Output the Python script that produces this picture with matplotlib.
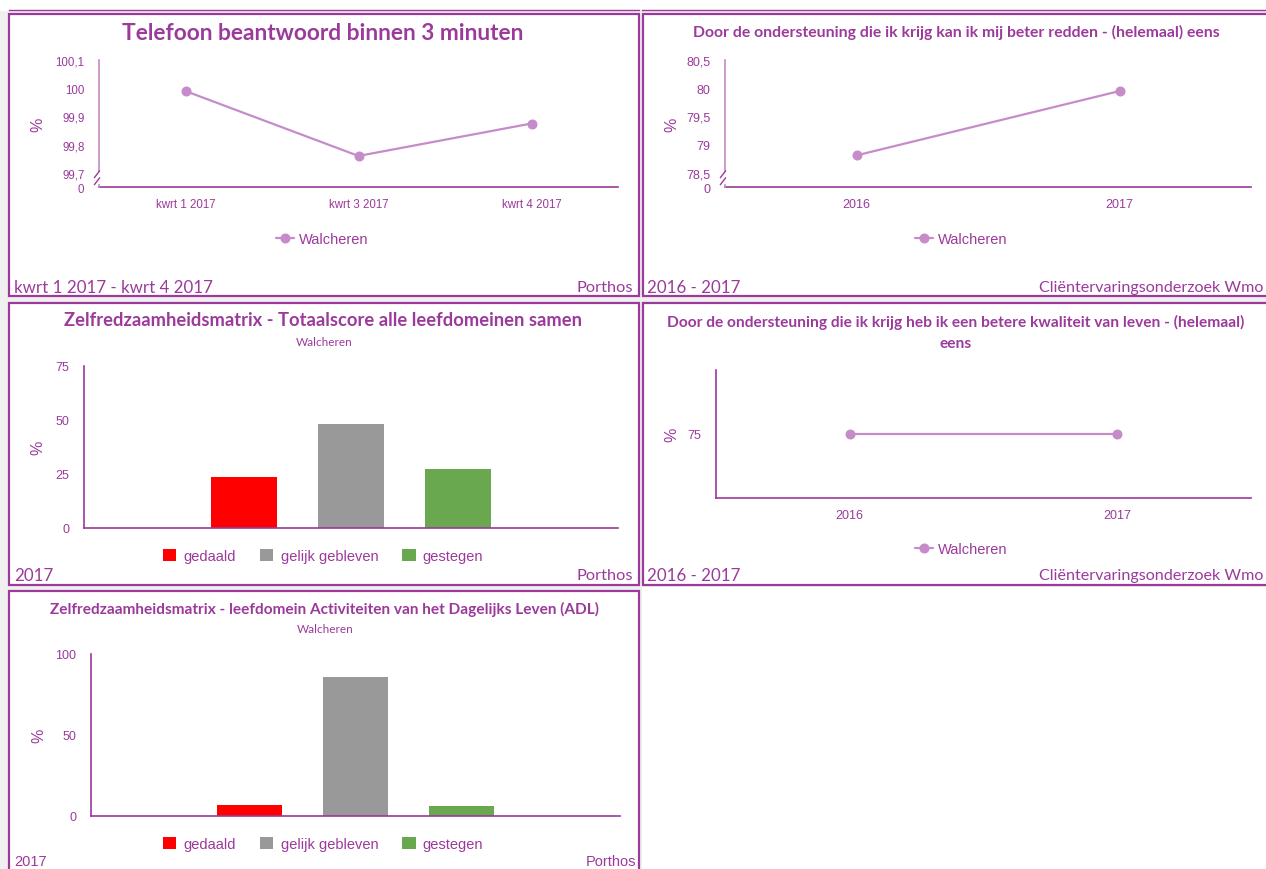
import matplotlib
matplotlib.use('Agg')
import matplotlib.pyplot as plt
from matplotlib.patches import Rectangle
from matplotlib.lines import Line2D

# ---------------- data ----------------
quarters = ['kwrt 1 2017', 'kwrt 3 2017', 'kwrt 4 2017']
telefoon = [99.99, 99.76, 99.875]
telefoon_ticks = [99.7, 99.8, 99.9, 100.0, 100.1]
telefoon_ticklabels = ['99,7', '99,8', '99,9', '100', '100,1']

years = ['2016', '2017']
redden = [78.81, 79.95]
redden_ticks = [78.5, 79.0, 79.5, 80.0, 80.5]
redden_ticklabels = ['78,5', '79', '79,5', '80', '80,5']

kwaliteit = [75, 75]
kwaliteit_ticks = [75]
kwaliteit_ticklabels = ['75']

zrm_cats = ['gedaald', 'gelijk gebleven', 'gestegen']
totaal = [23.6, 48.1, 27.3]
totaal_ticks = [0, 25, 50, 75]
adl = [7.0, 86.0, 6.4]
adl_ticks = [0, 50, 100]

series_name = 'Walcheren'

# ---------------- style ----------------
W, H = 1266, 870
PURPLE = '#9B3A9B'
LINEC = '#C68CC9'
YAX = '#C48AC6'
BARC = ['#FF0000', '#999999', '#6AA84F']
TITLE_F = ['Lato', 'DejaVu Sans']
NARROW_F = ['Liberation Sans Narrow', 'Liberation Sans', 'DejaVu Sans']

fig = plt.figure(figsize=(W / 100, H / 100), dpi=100, facecolor='white')


def fx(x):
    return x / W


def fy(y):
    return 1 - y / H


def ax_at(x0, y0, x1, y1):
    ax = fig.add_axes([fx(x0), fy(y1), (x1 - x0) / W, (y1 - y0) / H])
    ax.set_facecolor('none')
    return ax


def ftext(x, y, s, **kw):
    kw.setdefault('color', PURPLE)
    return fig.text(fx(x), fy(y), s, **kw)


def rect(x0, y0, x1, y1, fc, ec='none', lw=0, z=-5):
    r = Rectangle((fx(x0), fy(y1)), (x1 - x0) / W, (y1 - y0) / H,
                  transform=fig.transFigure, facecolor=fc,
                  edgecolor=ec, linewidth=lw, zorder=z)
    fig.add_artist(r)


# light grey page behind the panel grid
rect(0, 12, 642, 880, '#F0F0F0', z=-10)
rect(642, 12, 1270, 588, '#F0F0F0', z=-10)

# top rule lines
fig.add_artist(Line2D([fx(9), fx(639)], [fy(10.5), fy(10.5)], color=PURPLE, lw=1.0,
                      transform=fig.transFigure))
fig.add_artist(Line2D([fx(642), fx(1266)], [fy(10.5), fy(10.5)], color=PURPLE, lw=1.0,
                      transform=fig.transFigure))

# panel frames
rect(9, 15, 639, 297, 'white', PURPLE, 1.6)
rect(643, 15, 1275, 297, 'white', PURPLE, 1.6)
rect(9, 304, 639, 586, 'white', PURPLE, 1.6)
rect(643, 304, 1275, 586, 'white', PURPLE, 1.6)
rect(9, 592, 639, 880, 'white', PURPLE, 1.6)


def style_axes(ax, ycolor, tick_size):
    for sp in ['top', 'right']:
        ax.spines[sp].set_visible(False)
    ax.spines['bottom'].set_color(PURPLE)
    ax.spines['bottom'].set_linewidth(1.2)
    ax.spines['left'].set_color(ycolor)
    ax.spines['left'].set_linewidth(1.2)
    ax.tick_params(length=0, colors=PURPLE, labelsize=tick_size)
    ax.tick_params(axis='y', pad=10.5)
    ax.tick_params(axis='x', pad=8)
    for lab in ax.get_xticklabels() + ax.get_yticklabels():
        lab.set_family(NARROW_F)


def line_panel(box, cats, vals, ylim, ticks, ticklabels, broken, tick_size, leg_xy):
    x0, y0, x1, y1 = box
    ax = ax_at(*box)
    xs = list(range(len(cats)))
    ax.plot(xs, vals, color=LINEC, lw=1.6, marker='o', ms=6.2, label=series_name,
            solid_capstyle='round')
    ax.set_xlim(-0.5, len(cats) - 0.5)
    ax.set_ylim(*ylim)
    ax.set_xticks(xs)
    ax.set_xticklabels(cats)
    if broken:
        ax.set_yticks([ylim[0]] + ticks)
        ax.set_yticklabels(['0'] + ticklabels)
    else:
        ax.set_yticks(ticks)
        ax.set_yticklabels(ticklabels)
    style_axes(ax, YAX if broken else PURPLE, tick_size)
    if broken:
        # break the value axis just above the zero baseline
        h = y1 - y0
        frac_top = (y1 - 172) / h
        lo, hi = ylim
        ax.spines['left'].set_bounds(lo + frac_top * (hi - lo), hi)
        fig.add_artist(Line2D([fx(x0), fx(x0)], [fy(185.5), fy(y1)], color=YAX, lw=1.2,
                              transform=fig.transFigure))
        for (ya, yb) in [(178.5, 172.0), (185.5, 179.0)]:
            fig.add_artist(Line2D([fx(x0 - 4.5), fx(x0 + 0.5)], [fy(ya), fy(yb)],
                                  color=PURPLE, lw=1.0, transform=fig.transFigure))
    leg = ax.legend(loc='center', bbox_to_anchor=(fx(leg_xy[0]), fy(leg_xy[1])),
                    bbox_transform=fig.transFigure, frameon=False, numpoints=1,
                    handlelength=1.25, handletextpad=0.3, borderpad=0,
                    prop={'family': NARROW_F, 'size': 10.5})
    for t in leg.get_texts():
        t.set_color(PURPLE)
    return ax


def bar_panel(box, cats, vals, ymax, ticks, leg_xy):
    ax = ax_at(*box)
    pos = [i - (len(cats) - 1) / 2 for i in range(len(cats))]
    for p, v, c, lab in zip(pos, vals, BARC, cats):
        ax.bar(p, v, width=0.62, color=c, label=lab)
    ax.set_xlim(-2.5, 2.5)
    ax.set_ylim(0, ymax)
    ax.set_yticks(ticks)
    ax.set_yticklabels([str(t) for t in ticks])
    ax.set_xticks([])
    style_axes(ax, PURPLE, 9)
    leg = ax.legend(loc='center', bbox_to_anchor=(fx(leg_xy[0]), fy(leg_xy[1])),
                    bbox_transform=fig.transFigure, frameon=False, ncol=3,
                    handlelength=0.95, handleheight=0.95, handletextpad=0.5,
                    columnspacing=1.6, borderpad=0,
                    prop={'family': NARROW_F, 'size': 10.5})
    for t in leg.get_texts():
        t.set_color(PURPLE)
    return ax


def ylabel(ax, box, xpix):
    x0, y0, x1, y1 = box
    ax.set_ylabel('%', family=NARROW_F, fontsize=11.5, color=PURPLE)
    ax.yaxis.set_label_coords((xpix - x0) / (x1 - x0), 0.5)


# ---- panel 1 ----
b1 = (99, 61, 618, 188)
a1 = line_panel(b1, quarters, telefoon, (99.65, 100.1), telefoon_ticks, telefoon_ticklabels,
                True, 8.3, (322, 240))
ylabel(a1, b1, 45)
ftext(323, 33, 'Telefoon beantwoord binnen 3 minuten', family=TITLE_F, weight='bold',
      fontsize=16.4, ha='center', va='center')
ftext(14, 288, 'kwrt 1 2017 - kwrt 4 2017', family=TITLE_F, fontsize=12.2, ha='left', va='center')
ftext(633, 288, 'Porthos', family=TITLE_F, fontsize=11.8, ha='right', va='center')

# ---- panel 2 ----
b2 = (725, 61, 1251, 188)
a2 = line_panel(b2, years, redden, (78.25, 80.5), redden_ticks, redden_ticklabels,
                True, 9, (961, 240))
ylabel(a2, b2, 679)
ftext(956, 32, 'Door de ondersteuning die ik krijg kan ik mij beter redden - (helemaal) eens',
      family=TITLE_F, weight='bold', fontsize=11.3, ha='center', va='center')
ftext(647, 288, '2016 - 2017', family=TITLE_F, fontsize=12.2, ha='left', va='center')
ftext(1263, 288, 'Cliëntervaringsonderzoek Wmo', family=TITLE_F, fontsize=11.6, ha='right',
      va='center')

# ---- panel 3 ----
b3 = (84, 367, 618, 529)
a3 = bar_panel(b3, zrm_cats, totaal, 75, totaal_ticks, (323, 557))
ylabel(a3, b3, 45)
ftext(323, 321, 'Zelfredzaamheidsmatrix - Totaalscore alle leefdomeinen samen',
      family=TITLE_F, weight='bold', fontsize=13.2, ha='center', va='center')
ftext(324, 342, series_name, family=TITLE_F, fontsize=8.5, ha='center', va='center')
ftext(14, 576, '2017', family=TITLE_F, fontsize=12.2, ha='left', va='center')
ftext(633, 576, 'Porthos', family=TITLE_F, fontsize=11.8, ha='right', va='center')

# ---- panel 4 ----
b4 = (716, 371, 1251, 499)
a4 = line_panel(b4, years, kwaliteit, (74.5, 75.5), kwaliteit_ticks, kwaliteit_ticklabels,
                False, 9, (961, 550))
ylabel(a4, b4, 679)
ftext(956, 322, 'Door de ondersteuning die ik krijg heb ik een betere kwaliteit van leven - (helemaal)',
      family=TITLE_F, weight='bold', fontsize=11.2, ha='center', va='center')
ftext(956, 344, 'eens', family=TITLE_F, weight='bold', fontsize=11.2, ha='center', va='center')
ftext(647, 576, '2016 - 2017', family=TITLE_F, fontsize=12.2, ha='left', va='center')
ftext(1263, 576, 'Cliëntervaringsonderzoek Wmo', family=TITLE_F, fontsize=11.6, ha='right',
      va='center')

# ---- panel 5 ----
b5 = (91, 655, 620, 817)
a5 = bar_panel(b5, zrm_cats, adl, 100, adl_ticks, (323, 845))
ylabel(a5, b5, 46)
ftext(325, 609, 'Zelfredzaamheidsmatrix - leefdomein Activiteiten van het Dagelijks Leven (ADL)',
      family=TITLE_F, weight='bold', fontsize=11.1, ha='center', va='center')
ftext(325, 630, series_name, family=TITLE_F, fontsize=8.5, ha='center', va='center')
ftext(14, 862, '2017', family=NARROW_F, fontsize=10.5, ha='left', va='center')
ftext(636, 862, 'Porthos', family=NARROW_F, fontsize=10.5, ha='right', va='center')

fig.savefig('out.png', dpi=100, facecolor=fig.get_facecolor())
